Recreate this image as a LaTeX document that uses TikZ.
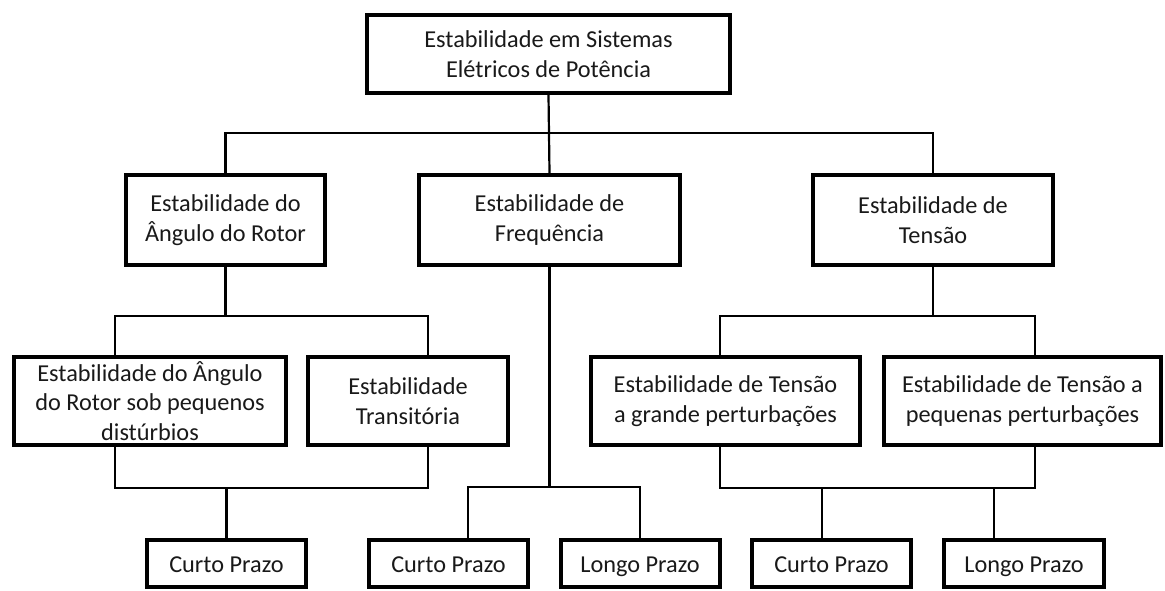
\documentclass[tikz,border=0pt]{standalone}
\usepackage{fontspec}
\setmainfont{Carlito}
\begin{document}
\begin{tikzpicture}[x=1pt,y=-1pt,
  box/.style={draw=black, line width=4pt, inner sep=0pt, align=center,
    font=\fontsize{24.3}{29.5}\selectfont, text=black!90},
  leaf/.style={box, minimum height=47pt, text height=18pt, text depth=0pt},
  conn/.style={draw=black, line width=2.2pt, line join=miter}]
\useasboundingbox (0,0) rectangle (1165,590);
% level 1
\node[box, minimum width=363pt, minimum height=78pt] (top) at (548.5,54) {Estabilidade em Sistemas\\Elétricos de Potência};
% level 2
\node[box, minimum width=199pt, minimum height=90pt] (rotor) at (225.5,220) {Estabilidade do\\Ângulo do Rotor};
\node[box, minimum width=261pt, minimum height=90pt] (freq) at (549.5,220) {Estabilidade de\\Frequência};
\node[box, minimum width=240pt, minimum height=90pt] (tens) at (933,220) {Estabilidade de\\Tensão};
% level 3
\node[box, minimum width=272pt, minimum height=88pt] (peq) at (150,401) {Estabilidade do Ângulo\\do Rotor sob pequenos\\distúrbios};
\node[box, minimum width=200pt, minimum height=88pt] (trans) at (408,401) {Estabilidade\\Transitória};
\node[box, minimum width=269pt, minimum height=88pt] (grande) at (725.5,401) {Estabilidade de Tensão\\a grande perturbações};
\node[box, minimum width=277pt, minimum height=88pt] (pequenas) at (1022.5,401) {Estabilidade de Tensão a\\pequenas perturbações};
% level 4
\node[leaf, minimum width=159pt] (curto1) at (226.5,563.5) {Curto Prazo};
\node[leaf, minimum width=159pt] (curto2) at (448.5,563.5) {Curto Prazo};
\node[leaf, minimum width=159pt] (longo1) at (640,563.5) {Longo Prazo};
\node[leaf, minimum width=159pt] (curto3) at (831.5,563.5) {Curto Prazo};
\node[leaf, minimum width=160pt] (longo3) at (1024,563.5) {Longo Prazo};
% bus coordinates
\coordinate (a0) at (549,133);
\coordinate (j1) at (115,316); \coordinate (j2) at (428,316);
\coordinate (k1) at (115,488); \coordinate (k2) at (428,488);
\coordinate (f1) at (468,487); \coordinate (f2) at (640,487);
\coordinate (t1) at (720,316); \coordinate (t2) at (1035,316);
\coordinate (u1) at (720,488); \coordinate (u2) at (1035,488);
\coordinate (v1) at (822,488); \coordinate (v2) at (994,488);
% connectors level 1-2
\draw[conn] (top.south) -- (freq.north);
\draw[conn] (rotor.north) |- (a0) -| (tens.north);
% rotor branch
\draw[conn] (rotor.south) -- (rotor.south |- j1);
\draw[conn] (peq.north -| j1) -- (j1) -- (j2) -- (trans.north -| j2);
\draw[conn] (peq.south -| k1) -- (k1) -- (k2) -- (trans.south -| k2);
\draw[conn] (curto1.north) -- (curto1.north |- k1);
% frequency branch
\draw[conn] (freq.south) -- (freq.south |- f1);
\draw[conn] (curto2.north -| f1) -- (f1) -- (f2) -- (longo1.north -| f2);
% voltage branch
\draw[conn] (tens.south) -- (tens.south |- t1);
\draw[conn] (grande.north -| t1) -- (t1) -- (t2) -- (pequenas.north -| t2);
\draw[conn] (grande.south -| u1) -- (u1) -- (u2) -- (pequenas.south -| u2);
\draw[conn] (curto3.north -| v1) -- (v1);
\draw[conn] (longo3.north -| v2) -- (v2);
\end{tikzpicture}
\end{document}
